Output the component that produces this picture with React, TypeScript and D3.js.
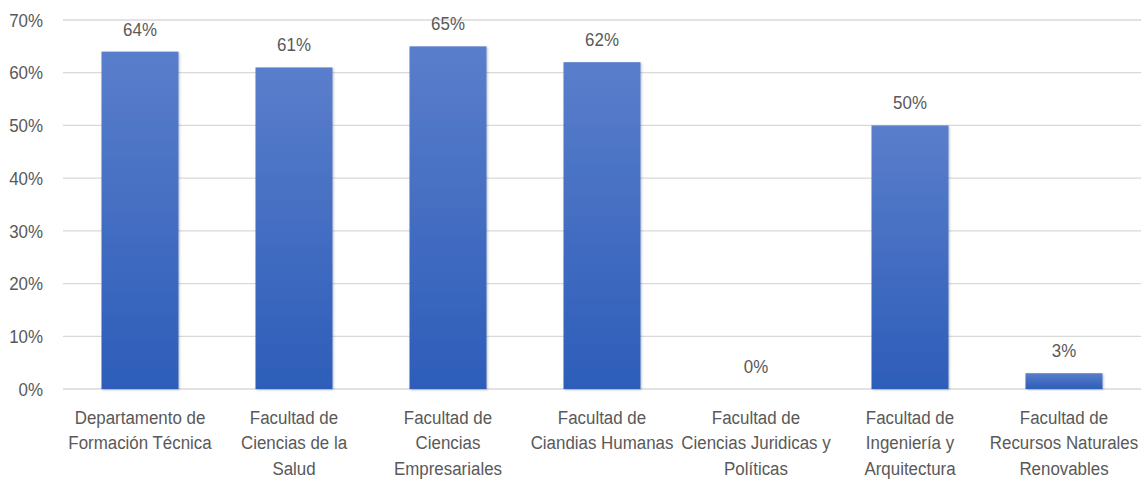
import React from "react";
import * as d3 from "d3";

const categories: string[][] = [
  ["Departamento de", "Formación Técnica"],
  ["Facultad de", "Ciencias de la", "Salud"],
  ["Facultad de", "Ciencias", "Empresariales"],
  ["Facultad de", "Ciandias Humanas"],
  ["Facultad de", "Ciencias Juridicas y", "Políticas"],
  ["Facultad de", "Ingeniería y", "Arquitectura"],
  ["Facultad de", "Recursos Naturales", "Renovables"],
];
const values: number[] = [64, 61, 65, 62, 0, 50, 3];
const yTicks: number[] = [0, 10, 20, 30, 40, 50, 60, 70];

const W = 1143;
const H = 481;
const FONT = "'Liberation Sans', Arial, sans-serif";
const FS = 19;
const SX = 0.89;

function T(props: { x: number; y: number; anchor: string; children: React.ReactNode; dy?: string }) {
  return (
    <g transform={`translate(${props.x},${props.y}) scale(${SX},1)`}>
      <text x={0} y={0} dy={props.dy} textAnchor={props.anchor} fontSize={FS} fill="#595959">
        {props.children}
      </text>
    </g>
  );
}

export default function App() {
  const x = d3
    .scaleBand<number>()
    .domain(values.map((_, i) => i))
    .range([63, 1141])
    .paddingInner(0.5)
    .paddingOuter(0.25);
  const y = d3.scaleLinear().domain([0, 70]).range([389, 20]);

  return (
    <svg
      width={W}
      height={H}
      style={{ position: "absolute", left: 0, top: 0, background: "#fff" }}
      fontFamily={FONT}
    >
      <defs>
        <linearGradient id="barGrad" x1="0" y1="0" x2="0" y2="1">
          <stop offset="0" stopColor="#5A7ECB" />
          <stop offset="1" stopColor="#2D5DB9" />
        </linearGradient>
        <filter id="shadow" x="-10%" y="-10%" width="120%" height="120%">
          <feDropShadow dx="1" dy="1" stdDeviation="1.2" floodColor="#000" floodOpacity="0.25" />
        </filter>
      </defs>
      {yTicks.map((t) => (
        <g key={t}>
          <line x1={63} x2={1141} y1={y(t)} y2={y(t)} stroke="#D9D9D9" strokeWidth={1.3} />
          <T x={43} y={y(t)} dy="0.35em" anchor="end">
            {t}%
          </T>
        </g>
      ))}
      {values.map((v, i) => {
        const cx = (x(i) as number) + x.bandwidth() / 2;
        return (
          <g key={i}>
            {v > 0 && (
              <rect
                x={x(i)}
                y={y(v)}
                width={x.bandwidth()}
                height={y(0) - y(v)}
                fill="url(#barGrad)"
                filter="url(#shadow)"
              />
            )}
            <T x={cx} y={y(v) - 16} anchor="middle">
              {v}%
            </T>
            {categories[i].map((line, j) => (
              <T key={j} x={cx} y={417 + j * 25.5} dy="0.35em" anchor="middle">
                {line}
              </T>
            ))}
          </g>
        );
      })}
    </svg>
  );
}
